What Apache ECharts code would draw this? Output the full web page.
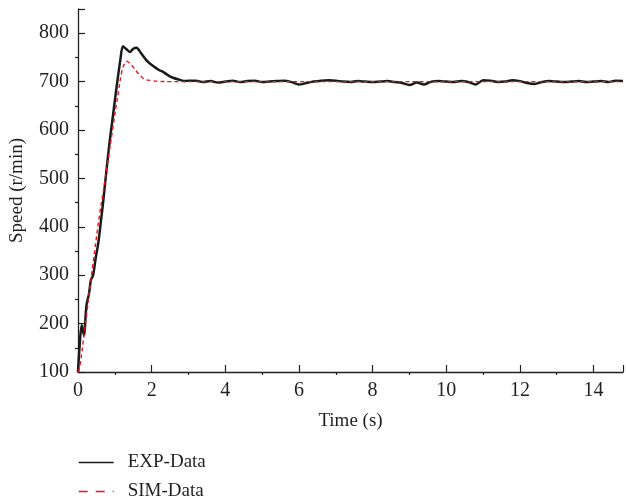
<!DOCTYPE html>
<html>
<head>
<meta charset="utf-8">
<script src="https://cdn.jsdelivr.net/npm/echarts@6/dist/echarts.min.js"></script>
<style>html,body{margin:0;padding:0;background:#fff}#c{width:626px;height:499px}</style>
</head>
<body>
<div id="c"></div>
<script>
// Time samples (s) and speeds (r/min)
var expTime = [0,0.05,0.1,0.16,0.23,0.3,0.35,0.41,0.48,0.55,0.62,0.68,0.75,0.85,0.95,1.05,1.15,1.22,1.3,1.41,1.5,1.59,1.7,1.86,2.04,2.2,2.31,2.45,2.58,2.75,2.89,3.0,
  3.2,3.4,3.6,3.8,4.0,4.2,4.4,4.6,4.8,5.0,5.2,5.4,5.6,5.8,6.0,6.2,6.4,6.6,6.8,7.0,7.2,7.4,7.6,7.8,8.0,8.2,8.4,8.6,8.8,9.0,9.2,9.4,9.6,9.8,10.0,10.2,10.4,10.6,10.8,11.0,11.2,11.4,11.6,11.8,12.0,12.2,12.4,12.6,12.8,13.0,13.2,13.4,13.6,13.8,14.0,14.2,14.4,14.6,14.8];
var expSpeed = [100,160,197,176,238,262,290,300,335,366,410,449,500,570,630,690,745,773,768,761,768,770,760,744,732,724,720,713,708,704,701,702,
  702,699,701,698,700,702,699,701,702,699,700,701,702,699,694,697,700,702,703,702,700,699,701,700,699,700,701,699,697,693,698,694,700,701,700,699,701,699,694,703,702,699,700,703,701,697,695,699,701,700,699,700,701,699,700,701,699,702,701];
var simTime = [0,0.05,0.19,0.41,0.59,0.67,0.8,0.95,1.1,1.18,1.25,1.32,1.4,1.5,1.59,1.7,1.81,2.0,2.2,2.5,3.0,14.8];
var simSpeed = [100,111,193,325,428,465,530,606,680,717,735,742,738,730,721,712,705,702,700.5,700,700,700];
var seriesNames = ['EXP-Data', 'SIM-Data'];
var xTitle = 'Time (s)';
var yTitle = 'Speed (r/min)';

function zip(a, b) { return a.map(function (t, i) { return [t, b[i]]; }); }

var FONT = '"Liberation Serif", "DejaVu Serif", serif';
var TXT = '#231f20';
var chart = echarts.init(document.getElementById('c'), null, {renderer: 'canvas'});
chart.setOption({
  animation: false,
  backgroundColor: '#fff',
  grid: {left: 78, right: 0, top: 9, bottom: 127, containLabel: false},
  legend: [
    {left: 78, top: 453, padding: 0, itemWidth: 35, itemHeight: 20,
     textStyle: {fontFamily: FONT, fontSize: 19, color: TXT, padding: [0, 0, 0, 9]},
     itemStyle: {opacity: 0},
     lineStyle: {width: 1.4},
     data: [seriesNames[0]]},
    {left: 78, top: 482, padding: 0, itemWidth: 35, itemHeight: 20,
     textStyle: {fontFamily: FONT, fontSize: 19, color: TXT, padding: [0, 0, 0, 9]},
     itemStyle: {opacity: 0},
     lineStyle: {width: 1.4, type: [9, 8]},
     data: [seriesNames[1]]}
  ],
  xAxis: {
    type: 'value', min: 0, max: 14.8, interval: 2,
    name: xTitle, nameLocation: 'middle', nameGap: 40,
    nameTextStyle: {fontFamily: FONT, fontSize: 19, color: TXT},
    axisLine: {lineStyle: {color: '#231f20', width: 1.3}},
    axisTick: {inside: true, length: 7, lineStyle: {color: '#231f20', width: 1.2}},
    minorTick: {show: true, splitNumber: 2, length: -3, lineStyle: {color: '#231f20', width: 1.2}},
    splitLine: {show: false},
    axisLabel: {fontFamily: FONT, fontSize: 20, color: TXT, margin: 9,
      formatter: function (v) { return (v % 2 === 0 && v <= 14) ? String(v) : ''; }}
  },
  yAxis: {
    type: 'value', min: 100, max: 850, interval: 100,
    name: yTitle, nameLocation: 'middle', nameGap: 51,
    nameTextStyle: {fontFamily: FONT, fontSize: 19, color: TXT},
    axisLine: {show: true, lineStyle: {color: '#231f20', width: 1.3}},
    axisTick: {show: true, inside: true, length: 7, lineStyle: {color: '#231f20', width: 1.2}},
    minorTick: {show: true, splitNumber: 2, length: -3, lineStyle: {color: '#231f20', width: 1.2}},
    splitLine: {show: false},
    axisLabel: {fontFamily: FONT, fontSize: 20, color: TXT, margin: 9,
      formatter: function (v) { return v <= 800 ? String(v) : ''; }}
  },
  series: [
    {name: seriesNames[0], type: 'line', data: zip(expTime, expSpeed), symbol: 'none', smooth: 0.3,
     lineStyle: {color: '#1a1a1a', width: 2.5}, itemStyle: {color: '#1a1a1a'}, z: 2},
    {name: seriesNames[1], type: 'line', data: zip(simTime, simSpeed), symbol: 'none', smooth: 0.4,
     lineStyle: {color: '#e8141c', width: 1.4, type: [4, 3]}, itemStyle: {color: '#e8141c'}, z: 3}
  ]
});
</script>
</body>
</html>
